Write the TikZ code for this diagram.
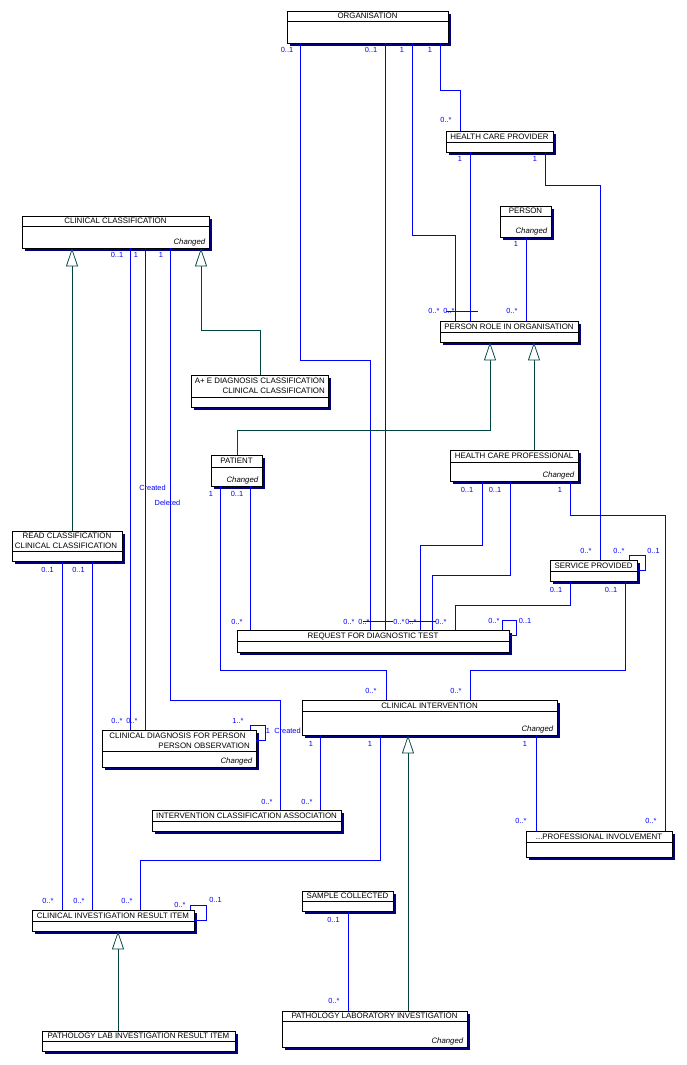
\documentclass[tikz,border=0pt]{standalone}
\usepackage{fontspec}
\setmainfont{Liberation Sans}
\usetikzlibrary{arrows.meta}
\definecolor{assocblue}{RGB}{0,0,255}
\definecolor{shadownavy}{RGB}{0,0,128}
\definecolor{genteal}{RGB}{0,68,64}
\tikzset{
  classbox/.style={draw=black, fill=white, line width=0.8pt, inner sep=0pt, rectangle},
  boxline/.style={black, line width=0.8pt},
  hdr/.style={font=\fontsize{7.9}{9}\selectfont, inner sep=0pt, text height=5.6pt, text depth=0pt},
  chg/.style={font=\fontsize{7.8}{9}\selectfont\itshape, inner sep=0pt, anchor=base east},
  mult/.style={font=\fontsize{7.4}{8}\selectfont, text=assocblue, inner sep=0pt, text height=5.2pt, text depth=0pt},
  assoc/.style={draw=assocblue, line width=0.75pt},
  gen/.style={draw=genteal, line width=0.75pt, -{Triangle[length=18pt, width=12pt, fill=white]}},
}
\newcounter{lblc}
\newcommand{\umlcls}[7]{%
  \fill[shadownavy] (#2+3,#3+3) rectangle (#4+3,#5+3);
  \node[classbox, minimum width={(#4-#2)*1pt}, minimum height={(#5-#3)*1pt}] (#1) at ({(#2+#4)/2},{(#3+#5)/2}) {};
  \draw[boxline] (#2,#6) -- (#4,#6);
  \node[hdr] (#1-title) at ({(#2+#4)/2},{(#3+#6)/2}) {#7};
}
\newcommand{\chgd}[1]{\node[chg] (#1-chg) at ([xshift=-4pt,yshift=3.9pt]#1.south east) {Changed};}
\newcommand{\mlt}[3]{\stepcounter{lblc}\node[mult] (lbl\thelblc) at (#1,#2) {#3};}
\begin{document}
\begin{tikzpicture}[x=1pt,y=-1pt]
\fill[white] (0,0) rectangle (686,1065);
\useasboundingbox (0,0) rectangle (686,1065);

% ---------- classes ----------
\umlcls{org}{287}{11}{448}{43}{21}{ORGANISATION}
\umlcls{hcp}{446}{131}{553}{152}{142}{HEALTH CARE PROVIDER}
\umlcls{cc}{22}{216}{209}{248}{226}{CLINICAL CLASSIFICATION}
\chgd{cc}
\umlcls{person}{500}{206}{551}{237}{216}{PERSON}
\chgd{person}
\umlcls{pro}{440}{321}{578}{342}{332}{PERSON ROLE IN ORGANISATION}
\umlcls{ae}{191}{375}{328}{407}{397}{}
\node[hdr, anchor=east] (ae-l1) at (325,381) {A+ E DIAGNOSIS CLASSIFICATION};
\node[hdr, anchor=east] (ae-l2) at (325,391) {CLINICAL CLASSIFICATION};
\umlcls{patient}{211}{455}{262}{486}{467}{PATIENT}
\chgd{patient}
\umlcls{hcpro}{450}{450}{578}{481}{462}{HEALTH CARE PROFESSIONAL}
\chgd{hcpro}
\umlcls{read}{12}{531}{122}{561}{551}{}
\node[hdr] (read-l1) at (67,536) {READ CLASSIFICATION};
\node[hdr] (read-l2) at (66,546) {CLINICAL CLASSIFICATION};
\umlcls{sp}{550}{560}{637}{581}{571}{SERVICE PROVIDED}
\umlcls{req}{237}{630}{509}{652}{641}{REQUEST FOR DIAGNOSTIC TEST}
\umlcls{ci}{302}{700}{557}{735}{711}{CLINICAL INTERVENTION}
\chgd{ci}
\umlcls{cdp}{102}{730}{256}{767}{751}{}
\node[hdr] (cdp-l1) at (177.5,736) {CLINICAL DIAGNOSIS FOR PERSON};
\node[hdr, anchor=east] (cdp-l2) at (250,746) {PERSON OBSERVATION};
\chgd{cdp}
\umlcls{ica}{152}{810}{341}{831}{821}{INTERVENTION CLASSIFICATION ASSOCIATION}
\umlcls{pi}{526}{831}{672}{857}{842}{...PROFESSIONAL INVOLVEMENT}
\umlcls{ciri}{32}{910}{194}{931}{921}{CLINICAL INVESTIGATION RESULT ITEM}
\umlcls{sc}{302}{891}{393}{911}{901}{SAMPLE COLLECTED}
\umlcls{pli}{282}{1011}{467}{1047}{1021}{PATHOLOGY LABORATORY INVESTIGATION}
\chgd{pli}
\umlcls{plir}{42}{1031}{235}{1051}{1041}{PATHOLOGY LAB INVESTIGATION RESULT ITEM}

% ---------- associations ----------
\draw[assoc] (org.south -| 300,0) |- (370,360) -- (req.north -| 370,0);
\draw[assoc] (org.south -| 385,0) -- (req.north -| 385,0);
\draw[assoc] (org.south -| 412,0) |- (455,235) -- (pro.north -| 455,0);
\draw[assoc] (org.south -| 440,0) |- (460,90) -- (hcp.north -| 460,0);
\draw[assoc] (hcp.south -| 470,0) -- (pro.north -| 470,0);
\draw[assoc] (hcp.south -| 545,0) |- (600,185) -- (sp.north -| 600,0);
\draw[assoc] (person.south -| 526,0) -- (pro.north -| 526,0);
\draw[assoc] (cc.south -| 130,0) -- (cdp.north -| 130,0);
\draw[assoc] (cc.south -| 145,0) -- (cdp.north -| 145,0);
\draw[assoc] (cc.south -| 170,0) |- (280,700) -- (ica.north -| 280,0);
\draw[assoc] (patient.south -| 220,0) |- (386,670) -- (ci.north -| 386,0);
\draw[assoc] (patient.south -| 250,0) -- (req.north -| 250,0);
\draw[assoc] (hcpro.south -| 482,0) |- (420,545) -- (req.north -| 420,0);
\draw[assoc] (hcpro.south -| 510,0) |- (432,575) -- (req.north -| 432,0);
\draw[assoc] (hcpro.south -| 570,0) |- (665,515) -- (pi.north -| 665,0);
\draw[assoc] (sp.south -| 570,0) |- (455,605) -- (req.north -| 455,0);
\draw[assoc] (sp.south -| 625,0) |- (470,670) -- (ci.north -| 470,0);
\draw[assoc] (sp.north -| 629,0) |- (645,555) |- (sp.east |- 0,570);
\draw[assoc] (req.north -| 502,0) |- (516,620) |- (req.east |- 0,635);
\draw[assoc] (read.south -| 62,0) -- (ciri.north -| 62,0);
\draw[assoc] (read.south -| 92,0) -- (ciri.north -| 92,0);
\draw[assoc] (ci.south -| 320,0) -- (ica.north -| 320,0);
\draw[assoc] (ci.south -| 380,0) |- (140,860) -- (ciri.north -| 140,0);
\draw[assoc] (ci.south -| 536,0) -- (pi.north -| 536,0);
\draw[assoc] (ciri.north -| 190,0) |- (206,905) |- (ciri.east |- 0,920);
\draw[assoc] (cdp.north -| 250,0) |- (265,725) |- (cdp.east |- 0,740);
\draw[assoc] (sc.south -| 348,0) -- (pli.north -| 348,0);
% label strokes
\draw[assoc] (446,311) -- (478,311);
\draw[assoc] (363,621) -- (393,621);
\draw[assoc] (409,621) -- (436,621);

% ---------- generalizations ----------
\draw[gen] (read.north -| 72,0) -- (cc.south -| 72,0);
\draw[gen] (ae.north -| 260,0) |- (201,330) -- (cc.south -| 201,0);
\draw[gen] (patient.north -| 237,0) |- (490,430) -- (pro.south -| 490,0);
\draw[gen] (hcpro.north -| 534,0) -- (pro.south -| 534,0);
\draw[gen] (pli.north -| 408,0) -- (ci.south -| 408,0);
\draw[gen] (plir.north -| 118,0) -- (ciri.south -| 118,0);

% ---------- multiplicities ----------
\mlt{287}{50}{0..1}
\mlt{371}{50}{0..1}
\mlt{402}{50}{1}
\mlt{430}{50}{1}
\mlt{446}{120}{0..*}
\mlt{460}{159}{1}
\mlt{535}{159}{1}
\mlt{117}{255}{0..1}
\mlt{136}{255}{1}
\mlt{161}{255}{1}
\mlt{516}{244}{1}
\mlt{434}{311}{0..*}
\mlt{449}{311}{0..*}
\mlt{512}{311}{0..*}
\mlt{211}{494}{1}
\mlt{237}{494}{0..1}
\mlt{237}{621.5}{0..*}
\mlt{349}{621.5}{0..*}
\mlt{364}{621.5}{0..*}
\mlt{399}{621.5}{0..*}
\mlt{411}{621.5}{0..*}
\mlt{441}{621.5}{0..*}
\mlt{467}{489.5}{0..1}
\mlt{495}{489.5}{0..1}
\mlt{560}{489.5}{1}
\mlt{586}{550.5}{0..*}
\mlt{619}{550.5}{0..*}
\mlt{653.5}{550.5}{0..1}
\mlt{556}{589.5}{0..1}
\mlt{611}{589.5}{0..1}
\mlt{494}{620.5}{0..*}
\mlt{525}{620.5}{0..1}
\mlt{47.5}{569.5}{0..1}
\mlt{78.5}{569.5}{0..1}
\mlt{152.5}{488}{Created}
\mlt{167.5}{503}{Deleted}
\mlt{371}{691}{0..*}
\mlt{456}{691}{0..*}
\mlt{117}{721}{0..*}
\mlt{132}{721}{0..*}
\mlt{238}{721}{1..*}
\mlt{268}{730.5}{1}
\mlt{287.5}{730.5}{Created}
\mlt{267}{801.5}{0..*}
\mlt{307}{801.5}{0..*}
\mlt{311}{743.5}{1}
\mlt{370}{743.5}{1}
\mlt{525}{743.5}{1}
\mlt{521}{821}{0..*}
\mlt{651}{821}{0..*}
\mlt{48}{901}{0..*}
\mlt{79}{901}{0..*}
\mlt{127}{901}{0..*}
\mlt{180}{904.5}{0..*}
\mlt{215.5}{900}{0..1}
\mlt{333.5}{919.5}{0..1}
\mlt{334}{1001}{0..*}
\end{tikzpicture}
\end{document}
